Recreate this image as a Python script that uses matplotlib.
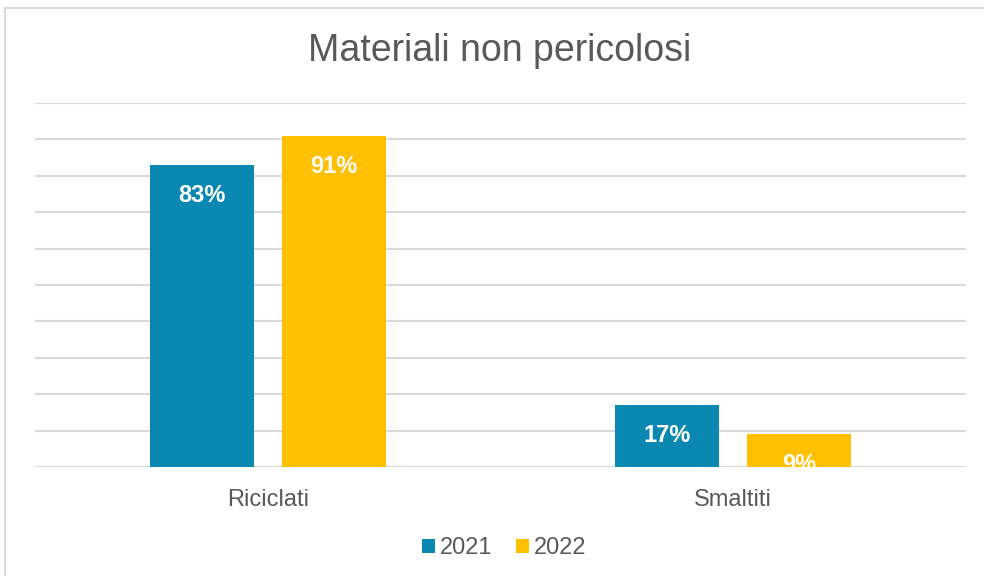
import matplotlib.pyplot as plt
import numpy as np
from matplotlib.patches import Rectangle

plt.rcParams['font.family'] = ['Liberation Sans', 'DejaVu Sans']

categories = ["Riciclati", "Smaltiti"]
years = ["2021", "2022"]
values_2021 = [83, 17]
values_2022 = [91, 9]

col_2021 = "#0B88B1"
col_2022 = "#FFC000"
txt_grey = "#595959"

fig = plt.figure(figsize=(9.84, 5.76), dpi=100)
W, H = 984, 576
ax = fig.add_axes([35 / W, 1 - 467 / H, (966 - 35) / W, (467 - 103) / H])

x = np.arange(len(categories))
w = 0.2234
off = w / 2 + 0.03
b1 = ax.bar(x - off, values_2021, w, color=col_2021, label=years[0], zorder=3)
b2 = ax.bar(x + off, values_2022, w, color=col_2022, label=years[1], zorder=3)

# data labels inside the top of each bar
for bars, vals in ((b1, values_2021), (b2, values_2022)):
    for rect, v in zip(bars, vals):
        ax.annotate(f"{v}%", (rect.get_x() + rect.get_width() / 2, v),
                    xytext=(0, -22), textcoords="offset points",
                    ha="center", va="center", color="white",
                    fontsize=17, fontweight="bold", zorder=4,
                    annotation_clip=False, clip_on=True)

ax.set_xlim(-0.5, 1.5)
ax.set_ylim(0, 100)
ax.set_yticks(np.arange(0, 101, 10))
ax.yaxis.grid(True, color="#D9D9D9", linewidth=1.5, zorder=0)
ax.tick_params(axis="y", left=False, labelleft=False)
ax.tick_params(axis="x", length=0, pad=16, labelsize=17, labelcolor=txt_grey)
ax.set_xticks(x)
ax.set_xticklabels(categories)
for s in ax.spines.values():
    s.set_visible(False)

fig.text(500 / W, 1 - 51 / H, "Materiali non pericolosi", ha="center", va="center",
         fontsize=27, color=txt_grey)

leg = fig.legend(loc="center", bbox_to_anchor=(504 / W, 1 - 548 / H), ncol=2,
                 frameon=False, fontsize=17, handlelength=0.55, handleheight=0.55,
                 handletextpad=0.2, columnspacing=1.0)
for t in leg.get_texts():
    t.set_color(txt_grey)

fig.patches.append(Rectangle((5 / W, -0.1), 1.2, 1 - 8 / H + 0.1, transform=fig.transFigure,
                             fill=False, edgecolor="#D9D9D9", linewidth=1.5))

fig.savefig("out.png", dpi=100)
